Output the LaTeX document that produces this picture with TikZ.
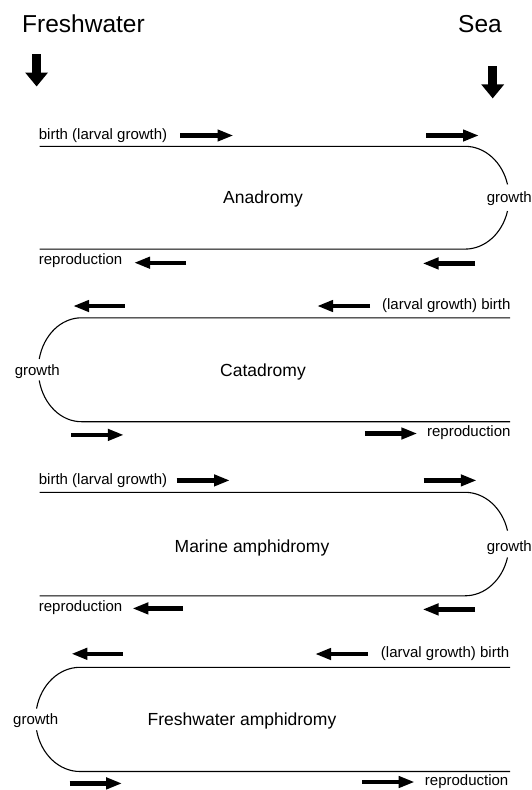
\documentclass[tikz,border=0pt]{standalone}
\usepackage{fontspec}
\setmainfont{Liberation Sans}
\usetikzlibrary{arrows.meta}
\begin{document}
\begin{tikzpicture}[x=1pt,y=-1pt,
  flow/.style={line width=4.2pt, -{Triangle[length=16pt,width=11pt]}},
  bigflow/.style={line width=8.5pt, -{Triangle[length=14pt,width=22pt]}},
  route/.style={line width=1.1pt},
  lbl/.style={font=\fontsize{15}{18}\selectfont, inner sep=0pt},
  title/.style={font=\fontsize{24.5}{29}\selectfont, inner sep=0pt},
  phase/.style={font=\fontsize{17.5}{21}\selectfont, inner sep=0pt}]
\useasboundingbox (0,0) rectangle (532,790);

% headings
\node[title, anchor=base west] (fw) at (22,32) {Freshwater};
\node[title, anchor=base east] (sea) at (502,32) {Sea};
\draw[bigflow] (36.6,54.3) -- (36.6,86.5);
\draw[bigflow] (492.7,66) -- (492.7,98.4);

% ---- Anadromy
\draw[route] (39.7,146.3) -- (465,146.3) arc[start angle=-90,end angle=-15,x radius=44,y radius=51.4];
\draw[route] (39.7,249.1) -- (465,249.1) arc[start angle=90,end angle=15,x radius=44,y radius=51.4];
\node[lbl, anchor=mid west] (b1) at (38.7,136.5) {birth (larval growth)};
\node[phase] (n1) at (263,199) {Anadromy};
\node[lbl] (g1) at (509.3,199) {growth};
\node[lbl, anchor=mid west] (r1) at (38.7,262) {reproduction};
\draw[flow] (180,135.5) -- (233.5,135.5);
\draw[flow] (426,135.5) -- (479,135.5);
\draw[flow] (186,262.7) -- (134,262.7);
\draw[flow] (475,263.4) -- (422.5,263.4);

% ---- Catadromy
\draw[route] (510,317.8) -- (81.4,317.8) arc[start angle=-90,end angle=-168,x radius=43.1,y radius=52];
\draw[route] (510,421.7) -- (81.4,421.7) arc[start angle=90,end angle=168,x radius=43.1,y radius=52];
\draw[flow] (124.9,306) -- (73,306);
\draw[flow] (370,306) -- (317,306);
\node[lbl, anchor=mid east] (b2) at (510.7,307) {(larval growth) birth};
\node[lbl] (g2) at (37.3,372) {growth};
\node[phase] (n2) at (263,372) {Catadromy};
\draw[flow] (71.3,434.9) -- (123.9,434.9);
\draw[flow] (364.8,433.5) -- (417.4,433.5);
\node[lbl, anchor=mid east] (r2) at (510.7,434) {reproduction};

% ---- Marine amphidromy
\draw[route] (39.7,492.3) -- (465,492.3) arc[start angle=-90,end angle=-15,x radius=44,y radius=51.75];
\draw[route] (39.7,595.8) -- (465,595.8) arc[start angle=90,end angle=15,x radius=44,y radius=51.75];
\node[lbl, anchor=mid west] (b3) at (38.7,481.4) {birth (larval growth)};
\node[phase] (n3) at (252,548) {Marine amphidromy};
\node[lbl] (g3) at (509.3,548) {growth};
\node[lbl, anchor=mid west] (r3) at (38.7,609) {reproduction};
\draw[flow] (176.5,480.4) -- (230,480.4);
\draw[flow] (423.5,480.4) -- (476.8,480.4);
\draw[flow] (183,608.4) -- (132.3,608.4);
\draw[flow] (475,609.4) -- (422.5,609.4);

% ---- Freshwater amphidromy
\draw[route] (510,667.3) -- (80,667.3) arc[start angle=-90,end angle=-168,x radius=44.4,y radius=52.1];
\draw[route] (510,771.5) -- (80,771.5) arc[start angle=90,end angle=168,x radius=44.4,y radius=52.1];
\draw[flow] (122.8,653.8) -- (71.3,653.8);
\draw[flow] (368.2,654) -- (315,654);
\node[lbl, anchor=mid east] (b4) at (509.5,655) {(larval growth) birth};
\node[lbl] (g4) at (35.7,721) {growth};
\node[phase] (n4) at (242,721) {Freshwater amphidromy};
\draw[flow] (69.6,783.4) -- (122.2,783.4);
\draw[flow] (362.4,782) -- (414.7,782);
\node[lbl, anchor=mid east] (r4) at (508.5,783) {reproduction};
\end{tikzpicture}
\end{document}
